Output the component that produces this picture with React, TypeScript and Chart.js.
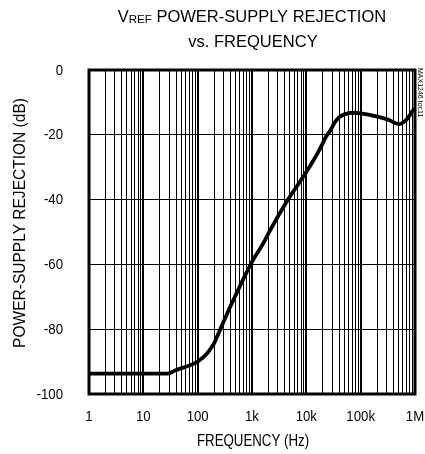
import React, { useEffect, useRef } from "react";
import { Chart, registerables } from "chart.js";

Chart.register(...registerables);

// Data
const frequencies = [1, 10, 28, 40, 60, 100, 150, 200, 255, 400, 1000, 1600, 2000, 4600, 10000, 17600, 23000, 28000, 33000, 40000, 50000, 71000, 100000, 194000, 316000, 519000, 630000, 741000, 890000, 1000000];
const rejection = [-93.7, -93.7, -93.7, -92.6, -91.6, -90, -87.4, -84.4, -80.4, -73, -59.2, -53.6, -50.5, -40, -31.5, -24.5, -20.6, -18.5, -16.3, -14.6, -13.7, -13.2, -13.4, -14.3, -15.3, -16.7, -16.0, -14.8, -12.8, -11.8];

const decadeValues = [1, 10, 100, 1000, 10000, 100000, 1000000];
const decadeLabels = ["1", "10", "100", "1k", "10k", "100k", "1M"];
const yTickValues = [0, -20, -40, -60, -80, -100];

const titleMain = "V";
const titleSub = "REF";
const titleRest = " POWER-SUPPLY REJECTION";
const titleLine2 = "vs. FREQUENCY";
const xTitle = "FREQUENCY (Hz)";
const yTitle = "POWER-SUPPLY REJECTION (dB)";
const watermark = "MAX1246 toc11";

const FONT = '"Liberation Sans", Arial, Helvetica, sans-serif';

const isDecade = (v: number) => Math.abs(Math.log10(v) - Math.round(Math.log10(v))) < 1e-9;

function squeezed(ctx: CanvasRenderingContext2D, text: string, x: number, y: number, sx: number, align: CanvasTextAlign, rot = 0) {
  ctx.save();
  ctx.translate(x, y);
  if (rot) ctx.rotate(rot);
  ctx.scale(sx, 1);
  ctx.textAlign = align;
  ctx.fillText(text, 0, 0);
  ctx.restore();
}

const textPlugin = {
  id: "customText",
  afterDraw(chart: any) {
    const { ctx, chartArea } = chart;
    const { left, right, top, bottom } = chartArea;
    const xs = chart.scales.x;
    const ys = chart.scales.y;
    ctx.save();
    // frame
    ctx.strokeStyle = "#000";
    ctx.lineWidth = 3;
    ctx.strokeRect(left, top, right - left, bottom - top);

    const cx = (left + right) / 2;
    ctx.fillStyle = "#000";
    ctx.textBaseline = "alphabetic";

    // title line 1 with subscript
    const big = `16.5px ${FONT}`;
    const small = `11.5px ${FONT}`;
    ctx.font = big;
    const wV = ctx.measureText(titleMain).width;
    const wRest = ctx.measureText(titleRest).width;
    ctx.font = small;
    const wSub = ctx.measureText(titleSub).width;
    const total = wV + wSub + wRest;
    let x = cx - total / 2;
    const y1 = 22;
    ctx.textAlign = "left";
    ctx.font = big;
    ctx.fillText(titleMain, x, y1);
    x += wV;
    ctx.font = small;
    ctx.fillText(titleSub, x, y1 + 1);
    x += wSub;
    ctx.font = big;
    ctx.fillText(titleRest, x, y1);
    // line 2
    ctx.textAlign = "center";
    ctx.fillText(titleLine2, cx + 1, 46.5);

    // tick labels
    ctx.font = `15px ${FONT}`;
    decadeValues.forEach((v, i) => {
      const px = xs.getPixelForValue(v);
      squeezed(ctx, decadeLabels[i], px, 420.5, 0.88, "center");
    });
    ctx.textBaseline = "middle";
    yTickValues.forEach((v) => {
      const py = ys.getPixelForValue(v);
      squeezed(ctx, String(v), 63, py + 0.5, 0.88, "right");
    });
    ctx.textBaseline = "alphabetic";

    // x axis title
    ctx.font = `16px ${FONT}`;
    squeezed(ctx, xTitle, cx + 1, 446, 0.83, "center");

    // y axis title
    ctx.font = `16px ${FONT}`;
    squeezed(ctx, yTitle, 25, 223, 0.97, "center", -Math.PI / 2);

    // watermark
    ctx.font = `7px ${FONT}`;
    squeezed(ctx, watermark, 418, 68, 1, "left", Math.PI / 2);

    ctx.restore();
  },
};

export default function App() {
  const canvasRef = useRef<HTMLCanvasElement | null>(null);

  useEffect(() => {
    if (!canvasRef.current) return;
    const chart = new Chart(canvasRef.current, {
      type: "line",
      data: {
        datasets: [
          {
            data: frequencies.map((f, i) => ({ x: f, y: rejection[i] })),
            borderColor: "#000",
            borderWidth: 3.8,
            pointRadius: 0,
            cubicInterpolationMode: "monotone",
            fill: false,
          },
        ],
      },
      options: {
        animation: false,
        responsive: false,
        maintainAspectRatio: false,
        layout: { padding: { left: 0, right: 10, top: 70, bottom: 0 } },
        plugins: { legend: { display: false }, tooltip: { enabled: false }, title: { display: false } },
        scales: {
          x: {
            type: "logarithmic",
            min: 1,
            max: 1000000,
            afterBuildTicks: (scale: any) => {
              const ticks: any[] = [];
              for (let d = 0; d < 6; d++) {
                for (let m = 1; m < 10; m++) ticks.push({ value: m * Math.pow(10, d) });
              }
              ticks.push({ value: 1000000 });
              scale.ticks = ticks;
            },
            afterFit: (scale: any) => {
              scale.height = 60;
              scale.paddingLeft = 0;
              scale.paddingRight = 0;
            },
            grid: {
              color: "#000",
              lineWidth: (c: any) => (c.tick && isDecade(c.tick.value) ? 2 : 1),
              drawTicks: false,
            },
            border: { display: false },
            ticks: { display: false, autoSkip: false, maxRotation: 0 },
          },
          y: {
            type: "linear",
            min: -100,
            max: 0,
            afterBuildTicks: (scale: any) => {
              scale.ticks = yTickValues.map((v) => ({ value: v }));
            },
            afterFit: (scale: any) => {
              scale.width = 89;
              scale.paddingTop = 0;
              scale.paddingBottom = 0;
            },
            grid: { color: "#000", lineWidth: 1, drawTicks: false },
            border: { display: false },
            ticks: { display: false },
          },
        },
      },
      plugins: [textPlugin],
    } as any);
    return () => chart.destroy();
  }, []);

  return (
    <div style={{ position: "fixed", left: 0, top: 0, width: 425, height: 454, background: "#fff" }}>
      <canvas ref={canvasRef} width={425} height={454} />
    </div>
  );
}
